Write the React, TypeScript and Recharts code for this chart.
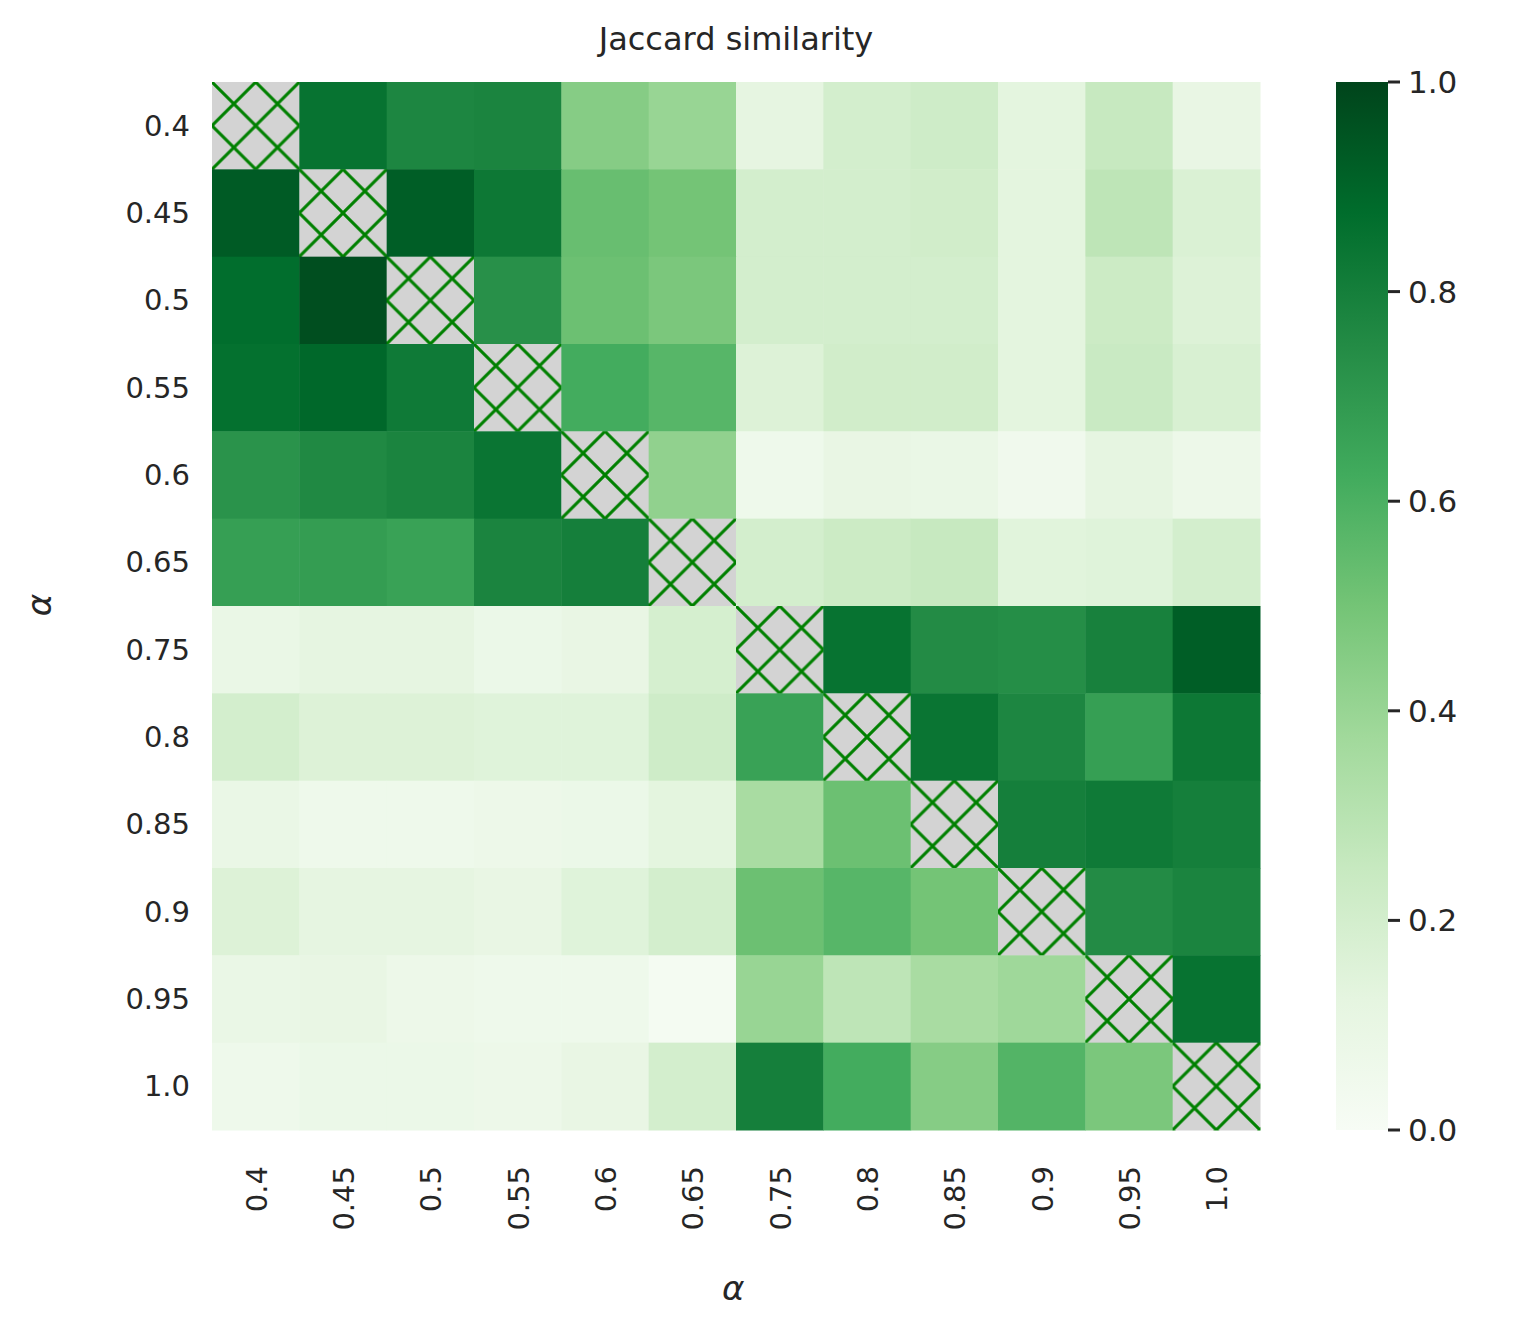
import { ScatterChart, Scatter, XAxis, YAxis } from "recharts";

const labels = ["0.4", "0.45", "0.5", "0.55", "0.6", "0.65", "0.75", "0.8", "0.85", "0.9", "0.95", "1.0"];

// rows = y label, cols = x label; null = diagonal (hatched)
const matrix: (number | null)[][] = [
  [null, 0.85, 0.77, 0.78, 0.45, 0.4, 0.12, 0.2, 0.22, 0.13, 0.25, 0.1],
  [0.93, null, 0.92, 0.83, 0.53, 0.5, 0.2, 0.2, 0.21, 0.13, 0.28, 0.17],
  [0.87, 0.97, null, 0.73, 0.52, 0.48, 0.2, 0.2, 0.2, 0.13, 0.23, 0.16],
  [0.86, 0.89, 0.82, null, 0.62, 0.57, 0.16, 0.21, 0.21, 0.13, 0.24, 0.18],
  [0.72, 0.76, 0.78, 0.84, null, 0.42, 0.06, 0.1, 0.09, 0.05, 0.12, 0.07],
  [0.67, 0.68, 0.66, 0.78, 0.8, null, 0.2, 0.23, 0.25, 0.14, 0.15, 0.2],
  [0.09, 0.12, 0.12, 0.08, 0.1, 0.19, null, 0.85, 0.75, 0.74, 0.79, 0.92],
  [0.2, 0.16, 0.16, 0.15, 0.15, 0.22, 0.66, null, 0.84, 0.77, 0.67, 0.83],
  [0.09, 0.06, 0.06, 0.07, 0.08, 0.13, 0.35, 0.52, null, 0.8, 0.82, 0.8],
  [0.16, 0.12, 0.12, 0.1, 0.15, 0.2, 0.52, 0.57, 0.5, null, 0.75, 0.78],
  [0.09, 0.1, 0.07, 0.06, 0.06, 0.02, 0.4, 0.28, 0.35, 0.38, null, 0.85],
  [0.06, 0.08, 0.08, 0.07, 0.1, 0.2, 0.8, 0.62, 0.45, 0.58, 0.48, null],
];

const colorTicks = [0, 0.2, 0.4, 0.6, 0.8, 1.0];

const GREENS = ["#f7fcf5", "#e5f5e0", "#c7e9c0", "#a1d99b", "#74c476", "#41ab5d", "#238b45", "#006d2c", "#00441b"];

function hex(c: string) {
  return [1, 3, 5].map((i) => parseInt(c.slice(i, i + 2), 16));
}
function greens(v: number) {
  const t = Math.max(0, Math.min(1, v)) * (GREENS.length - 1);
  const i = Math.min(Math.floor(t), GREENS.length - 2);
  const f = t - i;
  const a = hex(GREENS[i]);
  const b = hex(GREENS[i + 1]);
  const m = a.map((x, k) => Math.round(x + (b[k] - x) * f));
  return `rgb(${m[0]},${m[1]},${m[2]})`;
}

const cells = matrix.flatMap((row, r) =>
  row.map((v, c) => ({ x: c + 0.5, y: r + 0.5, v }))
);

const CELL = 1048 / 12;
const FONT = "DejaVu Sans, sans-serif";

const HeatCell = (props: any) => {
  const { cx, cy, payload } = props;
  const x = cx - CELL / 2;
  const y = cy - CELL / 2;
  if (payload.v === null) {
    return <rect x={x} y={y} width={CELL + 0.5} height={CELL + 0.5} fill="url(#hatch)" />;
  }
  return <rect x={x} y={y} width={CELL + 0.5} height={CELL + 0.5} fill={greens(payload.v)} />;
};

const XTick = (props: any) => {
  const { x, y, payload } = props;
  return (
    <g transform={`translate(${x},${y + 28})`}>
      <text transform="rotate(-90)" textAnchor="end" dy={11} fontSize={29} fill="#262626" fontFamily={FONT}>
        {labels[Math.floor(payload.value)]}
      </text>
    </g>
  );
};

const YTick = (props: any) => {
  const { x, y, payload } = props;
  return (
    <text x={x - 14} y={y} dy={10} textAnchor="end" fontSize={29} fill="#262626" fontFamily={FONT}>
      {labels[Math.floor(payload.value)]}
    </text>
  );
};

const centers = labels.map((_, i) => i + 0.5);

export default function App() {
  return (
    <div style={{ position: "fixed", left: 0, top: 0, width: 1514, height: 1342, background: "#fff", fontFamily: FONT }}>
      <ScatterChart width={1514} height={1342} margin={{ top: 82, left: 112, right: 254, bottom: 82 }}>
        <defs>
          <pattern id="hatch" patternUnits="userSpaceOnUse" width={CELL / 2} height={CELL / 2} x={212} y={82}>
            <rect width={CELL / 2} height={CELL / 2} fill="#d3d3d3" />
            <path d={`M0,0 L${CELL / 2},${CELL / 2} M${CELL / 2},0 L0,${CELL / 2}`} stroke="#008000" strokeWidth={3} />
          </pattern>
        </defs>
        <XAxis type="number" dataKey="x" domain={[0, 12]} ticks={centers} tick={<XTick />} axisLine={false} tickLine={false} height={130} interval={0} />
        <YAxis type="number" dataKey="y" domain={[0, 12]} reversed ticks={centers} tick={<YTick />} axisLine={false} tickLine={false} width={100} interval={0} />
        <Scatter data={cells} shape={<HeatCell />} isAnimationActive={false} />
      </ScatterChart>
      <div style={{ position: "absolute", left: 0, width: 1472, top: 20, textAlign: "center", fontSize: 32, color: "#262626" }}>
        Jaccard similarity
      </div>
      <div style={{ position: "absolute", left: 722, top: 1268, fontSize: 34, fontStyle: "italic", color: "#262626" }}>α</div>
      <div style={{ position: "absolute", left: 28, top: 585, fontSize: 34, fontStyle: "italic", color: "#262626", transform: "rotate(-90deg)" }}>α</div>
      <svg style={{ position: "absolute", left: 1320, top: 60 }} width={190} height={1100}>
        <defs>
          <linearGradient id="cbar" x1="0" y1="1" x2="0" y2="0">
            {GREENS.map((c, i) => (
              <stop key={i} offset={i / (GREENS.length - 1)} stopColor={c} />
            ))}
          </linearGradient>
        </defs>
        <rect x={16} y={22} width={52} height={1048} fill="url(#cbar)" />
        {colorTicks.map((t) => {
          const y = 22 + 1048 * (1 - t);
          return (
            <g key={t}>
              <line x1={68} x2={80} y1={y} y2={y} stroke="#262626" strokeWidth={3} />
              <text x={88} y={y + 11} fontSize={31} fill="#262626" fontFamily={FONT}>{t.toFixed(1)}</text>
            </g>
          );
        })}
      </svg>
    </div>
  );
}
